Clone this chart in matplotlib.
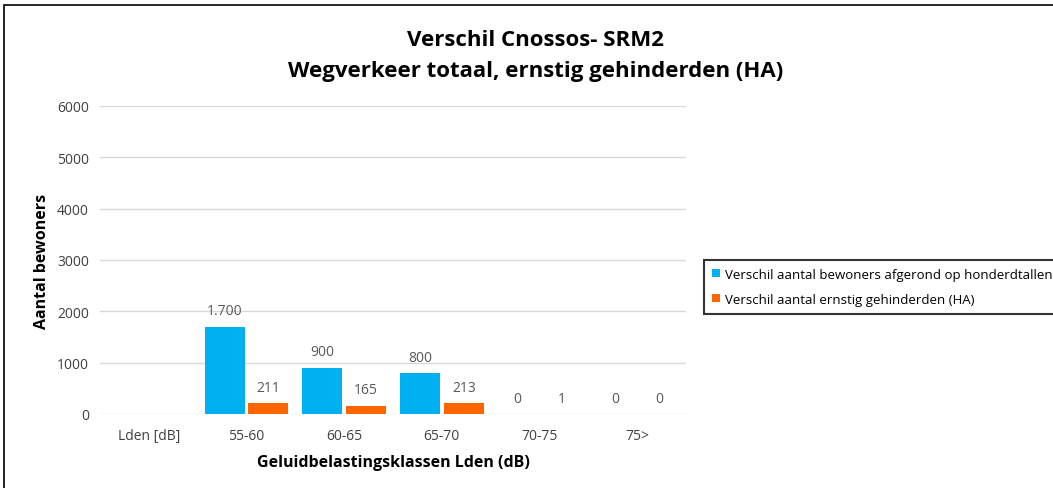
import matplotlib
matplotlib.use("Agg")
import matplotlib.pyplot as plt
import numpy as np
from matplotlib.patches import Rectangle

categories = ["Lden [dB]", "55-60", "60-65", "65-70", "70-75", "75>"]
bewoners = [np.nan, 1700, 900, 800, 0, 0]
gehinderden = [np.nan, 211, 165, 213, 1, 0]
bewoners_labels = ["", "1.700", "900", "800", "0", "0"]
gehinderden_labels = ["", "211", "165", "213", "1", "0"]
yticks = [0, 1000, 2000, 3000, 4000, 5000, 6000]

plt.rcParams['font.family'] = ['Open Sans', 'DejaVu Sans']

W, H = 1053, 489
fig = plt.figure(figsize=(W / 100, H / 100), dpi=100)
ax = fig.add_axes([100 / W, 1 - 415 / H, (686 - 100) / W, (415 - 107) / H])

x = np.arange(len(categories))
bw = 0.41
off = 0.225
blue = "#00B0F0"
orange = "#FF6600"
b1 = ax.bar(x - off, bewoners, bw, color=blue, label="Verschil aantal bewoners afgerond op honderdtallen", zorder=3)
b2 = ax.bar(x + off, gehinderden, bw, color=orange, label="Verschil aantal ernstig gehinderden (HA)", zorder=3)

for i in range(len(categories)):
    if bewoners_labels[i]:
        ax.annotate(bewoners_labels[i], (x[i] - off, bewoners[i]), xytext=(0, 6),
                    textcoords="offset points", ha="center", va="bottom", color="#595959", fontsize=10)
    if gehinderden_labels[i]:
        ax.annotate(gehinderden_labels[i], (x[i] + off, gehinderden[i]), xytext=(0, 6),
                    textcoords="offset points", ha="center", va="bottom", color="#595959", fontsize=10)

ax.set_xlim(-0.5, len(categories) - 0.5)
ax.set_ylim(0, 6000)
ax.set_yticks(yticks)
ax.set_yticklabels([str(t) for t in yticks])
ax.set_xticks(x)
ax.set_xticklabels(categories)
ax.tick_params(axis="both", length=0, colors="#404040", labelsize=10)
ax.tick_params(axis="x", pad=10)
ax.tick_params(axis="y", pad=8)
ax.grid(axis="y", color="#D9D9D9", linewidth=1, zorder=0)
for s in ax.spines.values():
    s.set_visible(False)

ax.set_ylabel("Aantal bewoners", fontsize=11.5, fontweight="bold", color="#000000", labelpad=5)
ax.set_xlabel("Geluidbelastingsklassen Lden (dB)", fontsize=11.5, fontweight="bold", color="#000000", labelpad=8)

fig.text(0.5085, 1 - 40 / H, "Verschil Cnossos- SRM2", ha="center", va="center", fontsize=16, fontweight="bold")
fig.text(0.5085, 1 - 72 / H, "Wegverkeer totaal, ernstig gehinderden (HA)", ha="center", va="center", fontsize=16, fontweight="bold")

leg = fig.legend(handles=[b1, b2], loc="upper left", bbox_to_anchor=(704 / W, 1 - 261 / H),
                 frameon=True, fancybox=False, edgecolor="black", fontsize=9.5,
                 handlelength=0.6, handleheight=0.6, handletextpad=0.4, labelspacing=0.9,
                 borderpad=0.6, borderaxespad=0)
leg.get_frame().set_linewidth(1.5)

fig.patches.append(Rectangle((4 / W, -0.1), 1.0, 1.1 - 6 / H, transform=fig.transFigure,
                             fill=False, edgecolor="black", linewidth=1.2))

fig.savefig("out.png", dpi=100)
